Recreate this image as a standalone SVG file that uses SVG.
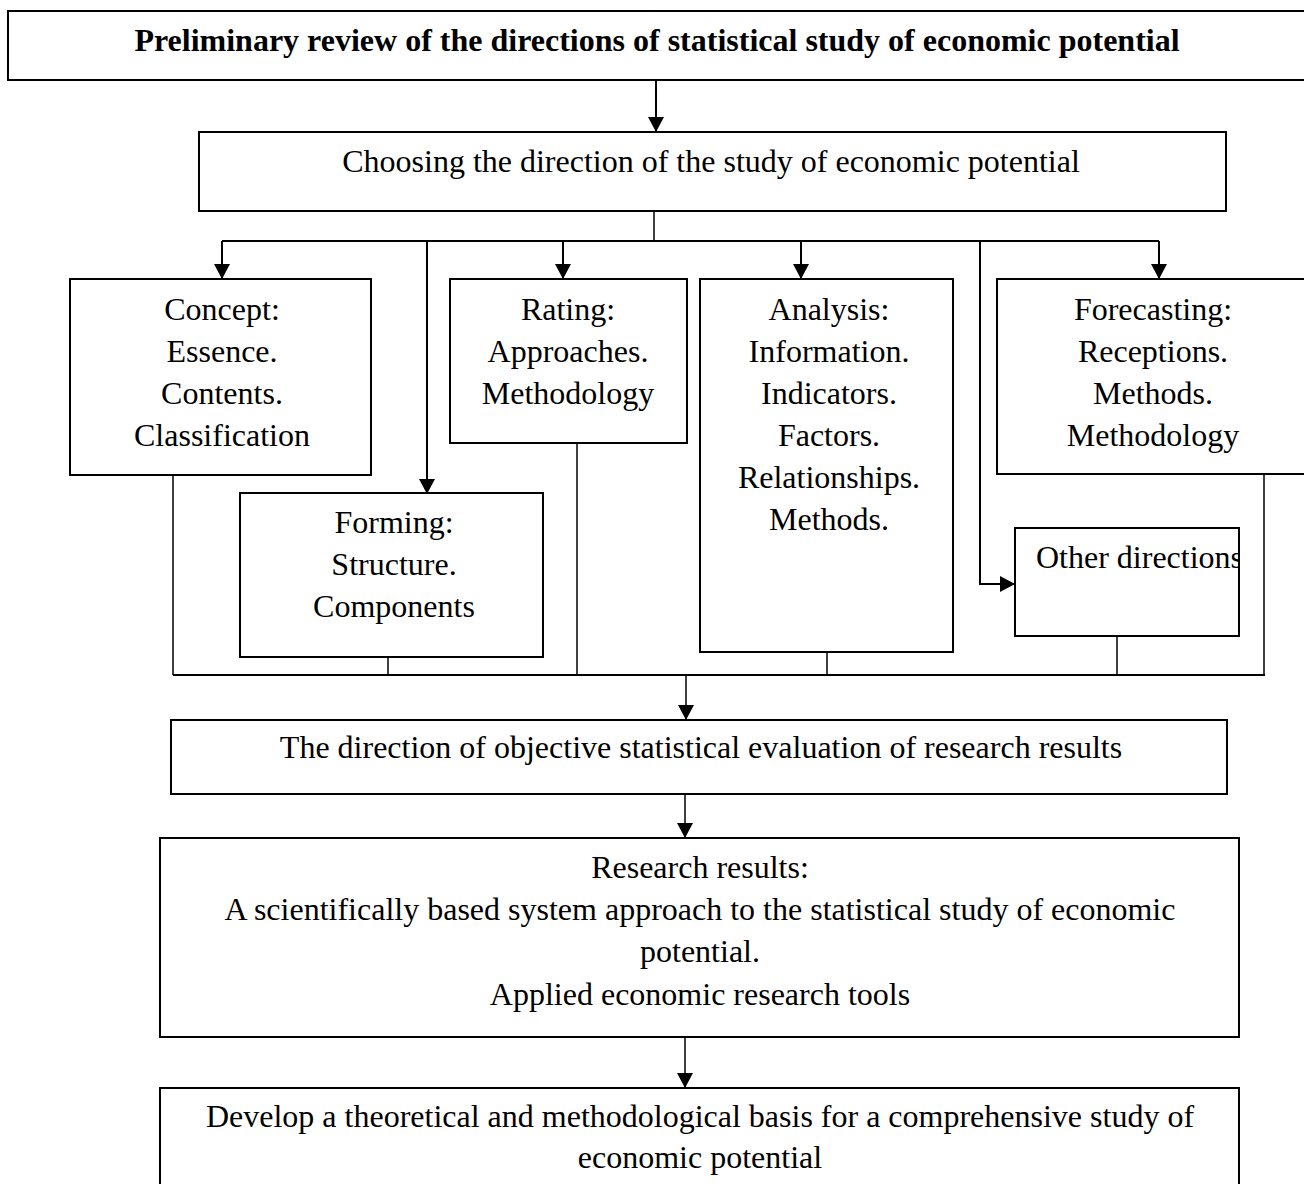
<svg xmlns="http://www.w3.org/2000/svg" width="1304" height="1184" viewBox="0 0 1304 1184">
<style>
.box{fill:#fff;stroke:#000;stroke-width:2}
.t{font-family:"Liberation Serif","Times New Roman",serif;font-size:32px;fill:#000;text-anchor:middle}
.b{font-weight:bold}
.ln{fill:none;stroke:#000;stroke-width:2}
.thin{fill:none;stroke:#000;stroke-width:1.5}
</style>
<defs>
<marker id="ah" markerUnits="userSpaceOnUse" markerWidth="16" markerHeight="16" refX="15" refY="8" orient="auto">
<path d="M0,0 L15,8 L0,16 z" fill="#000"/>
</marker>
<clipPath id="clipOther"><rect x="1015" y="528" width="224" height="108"/></clipPath>
</defs>
<rect width="1304" height="1184" fill="#fff"/>
<g id="connectors">
<line class="ln" x1="656" y1="80" x2="656" y2="132" marker-end="url(#ah)"/>
<line class="thin" x1="654" y1="211" x2="654" y2="241"/>
<line class="ln" x1="222" y1="241" x2="1159" y2="241"/>
<line class="ln" x1="222" y1="241" x2="222" y2="279" marker-end="url(#ah)"/>
<line class="ln" x1="563" y1="241" x2="563" y2="279" marker-end="url(#ah)"/>
<line class="ln" x1="801" y1="241" x2="801" y2="279" marker-end="url(#ah)"/>
<line class="ln" x1="1159" y1="241" x2="1159" y2="279" marker-end="url(#ah)"/>
<line class="ln" x1="427" y1="241" x2="427" y2="494" marker-end="url(#ah)"/>
<polyline class="ln" points="980,241 980,584 1015,584" marker-end="url(#ah)"/>
<line class="thin" x1="173" y1="475" x2="173" y2="675"/>
<line class="thin" x1="388" y1="639" x2="388" y2="675"/>
<line class="thin" x1="577" y1="443" x2="577" y2="675"/>
<line class="thin" x1="827" y1="652" x2="827" y2="675"/>
<line class="thin" x1="1117" y1="636" x2="1117" y2="675"/>
<line class="thin" x1="1264" y1="474" x2="1264" y2="675"/>
<line class="ln" x1="173" y1="675" x2="1265" y2="675"/>
<line class="thin" x1="686" y1="675" x2="686" y2="720" marker-end="url(#ah)"/>
<line class="thin" x1="685" y1="794" x2="685" y2="838" marker-end="url(#ah)"/>
<line class="thin" x1="685" y1="1037" x2="685" y2="1088" marker-end="url(#ah)"/>
</g>
<g id="n-title">
<rect class="box" x="8" y="11" width="1310" height="69"/>
<text class="t b" x="657" y="51">Preliminary review of the directions of statistical study of economic potential</text>
</g>
<g id="n-choosing">
<rect class="box" x="199" y="132" width="1027" height="79"/>
<text class="t" x="711" y="172">Choosing the direction of the study of economic potential</text>
</g>
<g id="n-concept">
<rect class="box" x="70" y="279" width="301" height="196"/>
<text class="t" x="222" y="320">Concept:</text>
<text class="t" x="222" y="362">Essence.</text>
<text class="t" x="222" y="404">Contents.</text>
<text class="t" x="222" y="446">Classification</text>
</g>
<g id="n-forming">
<rect class="box" x="240" y="493" width="303" height="164"/>
<text class="t" x="394" y="533">Forming:</text>
<text class="t" x="394" y="575">Structure.</text>
<text class="t" x="394" y="617">Components</text>
</g>
<g id="n-rating">
<rect class="box" x="450" y="279" width="237" height="164"/>
<text class="t" x="568" y="320">Rating:</text>
<text class="t" x="568" y="362">Approaches.</text>
<text class="t" x="568" y="404">Methodology</text>
</g>
<g id="n-analysis">
<rect class="box" x="700" y="279" width="253" height="373"/>
<text class="t" x="829" y="320">Analysis:</text>
<text class="t" x="829" y="362">Information.</text>
<text class="t" x="829" y="404">Indicators.</text>
<text class="t" x="829" y="446">Factors.</text>
<text class="t" x="829" y="488">Relationships.</text>
<text class="t" x="829" y="530">Methods.</text>
</g>
<g id="n-forecasting">
<rect class="box" x="997" y="279" width="320" height="195"/>
<text class="t" x="1153" y="320">Forecasting:</text>
<text class="t" x="1153" y="362">Receptions.</text>
<text class="t" x="1153" y="404">Methods.</text>
<text class="t" x="1153" y="446">Methodology</text>
</g>
<g id="n-other">
<rect class="box" x="1015" y="528" width="224" height="108"/>
<text class="t" x="1036" y="568" style="text-anchor:start" clip-path="url(#clipOther)">Other directions</text>
</g>
<g id="n-evaluation">
<rect class="box" x="171" y="720" width="1056" height="74"/>
<text class="t" x="701" y="758">The direction of objective statistical evaluation of research results</text>
</g>
<g id="n-results">
<rect class="box" x="160" y="838" width="1079" height="199"/>
<text class="t" x="700" y="878">Research results:</text>
<text class="t" x="700" y="920">A scientifically based system approach to the statistical study of economic</text>
<text class="t" x="700" y="962">potential.</text>
<text class="t" x="700" y="1005">Applied economic research tools</text>
</g>
<g id="n-develop">
<rect class="box" x="160" y="1088" width="1079" height="110"/>
<text class="t" x="700" y="1127">Develop a theoretical and methodological basis for a comprehensive study of</text>
<text class="t" x="700" y="1168">economic potential</text>
</g>
</svg>
